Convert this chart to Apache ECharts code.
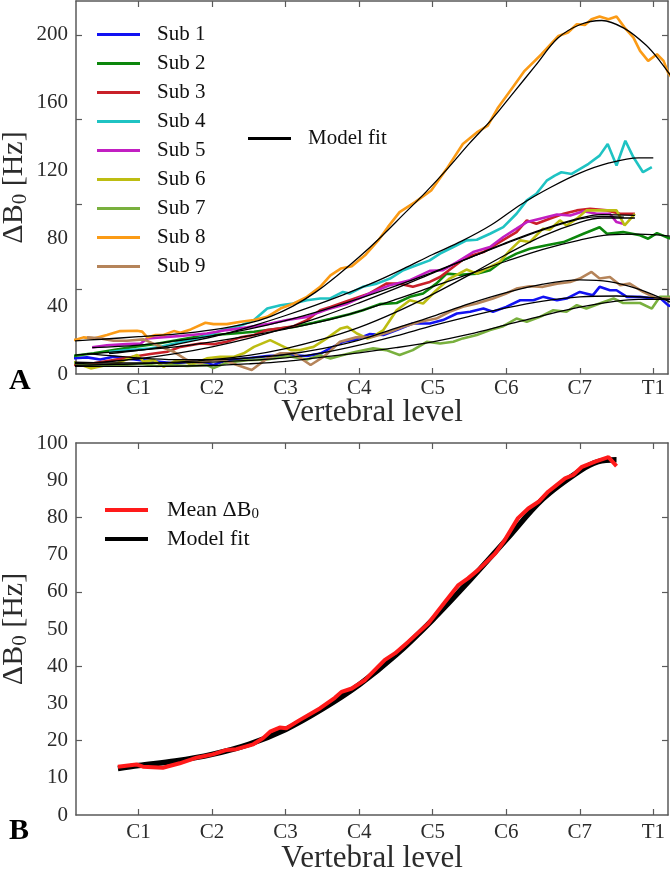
<!DOCTYPE html>
<html>
<head>
<meta charset="utf-8">
<script src="https://cdn.jsdelivr.net/npm/echarts@6/dist/echarts.min.js"></script>
<style>
  html, body { margin: 0; padding: 0; background: #fff; }
  #chart { width: 670px; height: 873px; }
</style>
</head>
<body>
<div id="chart"></div>
<script>
// Vertebral levels (x positions 1..8)
const levelValues = [1, 2, 3, 4, 5, 6, 7, 8];
const levelLabels = ["C1", "C2", "C3", "C4", "C5", "C6", "C7", "T1"];
const yLabelsA = [0, 40, 80, 120, 160, 200];
const yTicksA = [50, 100, 150, 200];
const yLabelsB = [0, 10, 20, 30, 40, 50, 60, 70, 80, 90, 100];
const yTicksB = [20, 40, 60, 80];

const subNames = ["Sub 1", "Sub 2", "Sub 3", "Sub 4", "Sub 5", "Sub 6", "Sub 7", "Sub 8", "Sub 9"];
const subColors = ["#1212f2", "#0c870c", "#c92029", "#1fc3c3", "#c21fc2", "#bdbd12", "#79b03e", "#fb9b16", "#b5845a"];

// measured field offset per subject, [vertebral level, Hz]
const sub1 = [[0.1,9.2],[0.3,9.8],[0.48,8.6],[0.66,10.2],[0.84,9.2],[1.03,8.2],[1.25,7.3],[1.48,6.3],[1.71,7.3],[1.93,6.3],[2.02,5.3],[2.2,8.2],[2.48,9.2],[2.75,10.6],[3.02,11.2],[3.29,10.6],[3.47,12],[3.6,15],[3.78,19],[3.96,20.4],[4.14,23.5],[4.33,23],[4.51,25.9],[4.73,29.8],[4.96,29.8],[5.14,31.8],[5.33,35.7],[5.51,36.7],[5.69,38.6],[5.82,36.7],[6.0,39.6],[6.19,43.5],[6.37,43.5],[6.5,45.5],[6.69,43.5],[6.82,44.5],[7.0,48.4],[7.18,46.5],[7.27,51.4],[7.41,49.4],[7.5,49.4],[7.64,45.5],[7.82,45.5],[8.0,44.5],[8.09,45],[8.2,40.6],[8.3,39]];
const sub2 = [[0.1,10.6],[0.39,12.2],[0.66,14.1],[0.93,16],[1.21,17.6],[1.48,19.6],[1.75,21.6],[2.02,23],[2.3,23.9],[2.57,24.9],[2.84,26.3],[3.11,27.8],[3.38,30.2],[3.6,32.4],[3.87,35.2],[4.05,37.6],[4.28,41.2],[4.51,41.9],[4.69,45.5],[4.87,47.5],[5.05,53.3],[5.19,59.2],[5.37,58.5],[5.6,59.2],[5.78,61.2],[5.96,67],[6.14,71],[6.32,73.9],[6.55,75.9],[6.78,77.8],[7.05,82.7],[7.27,86.6],[7.37,82.7],[7.59,83.7],[7.82,81.8],[7.93,79.8],[8.05,83.1],[8.2,80.4],[8.3,79]];
const sub3 = [[0.1,5.3],[0.39,6.3],[0.66,8.2],[0.93,10.2],[1.16,11.8],[1.39,13.1],[1.57,16],[1.84,18],[2.02,17.6],[2.2,19],[2.39,21.6],[2.57,23],[2.75,25.9],[2.93,26.9],[3.11,28.2],[3.29,31.8],[3.47,37.6],[3.61,39.5],[3.87,43.5],[4.14,47.5],[4.37,53.3],[4.55,53.3],[4.73,51.4],[4.96,54.3],[5.1,57.2],[5.28,63.1],[5.46,69],[5.69,71.9],[5.91,77.8],[6.14,83.7],[6.28,90.6],[6.41,88.6],[6.59,91.6],[6.78,94.5],[6.96,96.5],[7.14,97.5],[7.37,96.5],[7.55,94.5],[7.75,94.5]];
const sub4 = [[0.6,13],[0.8,14],[1.0,14.5],[1.15,15],[1.3,16],[1.45,17.5],[1.6,19],[1.8,21],[1.95,23],[2.15,25.9],[2.4,28.8],[2.57,31.8],[2.75,38.6],[2.93,40.6],[3.1,41.6],[3.29,43.5],[3.47,44.5],[3.6,44.5],[3.78,48.4],[3.87,47.5],[4.05,51.4],[4.24,53.3],[4.42,56.3],[4.6,61.2],[4.78,64.1],[4.96,67],[5.1,71],[5.28,74.9],[5.46,78.8],[5.6,79.2],[5.78,82.7],[5.96,86.6],[6.14,94.5],[6.28,102.4],[6.41,106.3],[6.55,114],[6.66,117],[6.75,119],[6.89,118],[7.12,124],[7.27,128.8],[7.38,135.7],[7.5,123],[7.62,137.6],[7.73,127.8],[7.86,119],[7.98,122]];
const sub5 = [[0.37,15.7],[0.57,17],[0.84,17.6],[1.03,18],[1.12,21],[1.3,21.6],[1.57,22.4],[1.93,23.9],[2.2,25.9],[2.48,27.5],[2.75,29.4],[3.02,31.8],[3.29,33.7],[3.56,38],[3.84,41.5],[4.14,47.5],[4.42,52.4],[4.69,55.3],[4.96,60.8],[5.14,61.2],[5.33,66],[5.55,71.9],[5.78,74.9],[5.96,80.8],[6.14,85.7],[6.28,89.6],[6.46,91.6],[6.69,94.1],[6.87,93.5],[7.05,96],[7.23,94.5],[7.41,94.5],[7.5,89.6],[7.59,88.6]];
const sub6 = [[0.1,7.3],[0.35,3.3],[0.57,5.3],[0.71,6.3],[0.98,11.2],[1.07,7.3],[1.21,8.2],[1.34,4.3],[1.48,7.3],[1.62,8.2],[1.71,5.3],[1.93,9.2],[2.11,10.2],[2.3,10.2],[2.43,12.2],[2.57,16],[2.79,20],[2.93,17],[3.07,14.1],[3.2,14.1],[3.38,16],[3.56,21],[3.75,26.9],[3.84,27.8],[3.97,23.9],[4.11,21],[4.19,22],[4.33,25.9],[4.51,37.6],[4.69,43.5],[4.87,41.6],[5.05,49.4],[5.23,56.3],[5.46,61.6],[5.6,59.2],[5.78,63.1],[5.91,66],[6.05,72.9],[6.19,78.8],[6.32,77.8],[6.5,85.7],[6.59,85.1],[6.73,90.6],[6.82,87.6],[6.96,91.6],[7.09,96.5],[7.27,96.5],[7.5,96.5],[7.61,87.6],[7.75,94.5]];
const sub7 = [[0.1,6.6],[0.35,5.3],[0.57,5.3],[0.8,5.3],[1.03,6],[1.25,4.7],[1.48,5.3],[1.66,4.7],[1.93,5.3],[2.02,3.5],[2.2,6.7],[2.48,8.2],[2.75,8.6],[3.02,10.6],[3.29,8.6],[3.47,11],[3.61,9.2],[3.78,11.2],[3.96,13.1],[4.19,15.1],[4.37,14.1],[4.55,11.2],[4.73,14.1],[4.92,19],[5.1,18],[5.28,19],[5.41,21],[5.6,23],[5.78,25.9],[5.96,28.2],[6.14,32.7],[6.28,30.8],[6.46,33.7],[6.64,37.6],[6.82,36.7],[6.96,40.6],[7.09,38.6],[7.27,41.6],[7.46,44.5],[7.59,41.9],[7.82,41.9],[7.98,38.6],[8.09,45.5],[8.2,45.5],[8.3,45.5]];
const sub8 = [[0.1,20],[0.16,20.4],[0.25,21.6],[0.39,21],[0.57,23],[0.75,25.3],[0.98,25.5],[1.05,25],[1.12,21.6],[1.23,23],[1.34,23],[1.48,25.3],[1.57,24.3],[1.71,26.3],[1.91,30.2],[2.02,29.4],[2.2,29.4],[2.39,30.8],[2.57,31.8],[2.75,33.7],[2.93,38.6],[3.11,41.6],[3.29,45.5],[3.47,51.4],[3.61,58.2],[3.75,62.2],[3.9,63.5],[4.08,70],[4.26,78.8],[4.39,86.6],[4.55,95.5],[4.76,101.4],[4.98,108.2],[5.19,121],[5.41,135.7],[5.6,142.5],[5.75,146.5],[5.89,157.2],[6.07,168],[6.25,178.8],[6.48,188.6],[6.71,199.4],[6.84,201.4],[6.96,206.3],[7.07,205.9],[7.16,209.2],[7.27,210.8],[7.39,209.2],[7.5,210.8],[7.61,204.3],[7.73,198.4],[7.82,190.6],[7.93,184.7],[8.05,188.6],[8.14,184.7],[8.2,177.8],[8.3,172]];
const sub9 = [[0.3,21.6],[0.48,21],[0.66,19.6],[0.84,19.6],[1.07,20.4],[1.25,17],[1.48,13.1],[1.66,8.2],[1.84,6.3],[2.02,8.2],[2.16,8.2],[2.34,5.3],[2.54,2.4],[2.75,9.2],[2.93,12.2],[3.11,12.2],[3.34,5.3],[3.52,10.2],[3.74,19],[3.96,21.6],[4.19,22],[4.42,24.9],[4.6,27.8],[4.83,30.8],[5.05,32.7],[5.23,36.7],[5.41,39.6],[5.6,41.6],[5.82,44.5],[6.0,47.5],[6.14,50.4],[6.32,51.8],[6.5,51.4],[6.69,53.3],[6.87,54.3],[7.0,56.3],[7.16,60.2],[7.27,56.3],[7.41,57.2],[7.55,52.4],[7.68,53.3],[7.86,48.4],[8.05,44.5],[8.2,44.5],[8.3,44.5]];

// model fit per subject
const fit1 = [[0.1,7],[0.6,6.5],[1.2,6.5],[2,7],[2.5,8],[3,9.5],[3.5,12.5],[4,17],[4.5,22.5],[5,28.5],[5.5,34],[6,39],[6.5,43],[7,45.5],[7.5,46],[8,45],[8.3,43.5]];
const fit2 = [[0.1,11],[0.5,12.5],[1,14],[1.5,16],[2,19],[2.5,22.5],[3,26.5],[3.5,31],[4,37],[4.5,44],[5,51.5],[5.5,59],[6,66.5],[6.5,73.5],[7,79],[7.4,82],[7.8,82.5],[8.3,81]];
const fit3 = [[0.1,6],[0.5,7],[1,9],[1.5,12],[2,16],[2.5,21],[3,27],[3.5,34],[4,42],[4.5,50.5],[5,59.5],[5.5,68.5],[6,77.5],[6.5,85.5],[7,92],[7.3,94],[7.75,93.5]];
const fit4 = [[0.6,12],[1,14],[1.4,16.5],[1.8,20],[2.2,24],[2.6,29],[3,34.5],[3.4,40.5],[3.8,47],[4.2,54],[4.6,62],[5,70.5],[5.4,78.5],[5.8,88],[6.2,100],[6.6,110],[7,118.5],[7.4,124.5],[7.8,127.5],[8.0,127.5]];
const fit5 = [[0.37,15.5],[1,17],[1.5,19.5],[2,22.5],[2.5,26.5],[3,31.5],[3.5,37.5],[4,44.5],[4.5,52],[5,60],[5.5,68.5],[6,77],[6.5,85],[7,91.5],[7.3,93],[7.6,92.5]];
const fit6 = [[0.1,5],[0.5,5.5],[1,6],[1.5,7],[2,8.5],[2.5,11],[3,15],[3.5,20.5],[4,27.5],[4.5,36.5],[5,47],[5.5,58.5],[6,70.5],[6.5,81.5],[7,89.5],[7.3,92],[7.75,92]];
const fit7 = [[0.1,4.5],[1,4.5],[2,5],[2.5,6],[3,7.5],[3.5,10],[4,12.5],[4.5,15.5],[5,19],[5.5,23.5],[6,29],[6.5,34.5],[7,39.5],[7.5,43],[7.8,44],[8.3,44]];
const fit8 = [[0.1,19.5],[0.5,20.5],[1,22],[1.5,23.5],[2,26],[2.5,30],[2.8,34],[3.1,40],[3.4,48],[3.7,58],[4.0,69],[4.3,81],[4.6,94],[4.9,107],[5.2,121],[5.5,136],[5.8,150],[6.1,166],[6.4,182],[6.7,198],[7.0,206],[7.3,208.5],[7.6,204],[7.9,194],[8.1,184],[8.3,172]];
const fit9 = [[0.3,12],[1,9.5],[1.5,8.5],[2,8.5],[2.5,9.5],[3,11.5],[3.5,15],[4,20],[4.5,27],[5,34],[5.5,41.5],[6,48],[6.5,53],[7,55.5],[7.4,54.5],[7.8,50],[8.3,41]];

// panel B: mean over subjects and its fit
const meanB0 = [[0.72,13],[0.97,13.6],[1.06,13],[1.33,12.7],[1.56,13.9],[1.79,15.4],[2.01,16.3],[2.2,17.5],[2.33,17.7],[2.56,19],[2.69,20.6],[2.79,22.4],[2.92,23.5],[3.01,23.3],[3.19,25.5],[3.47,28.7],[3.67,31.5],[3.76,33.1],[3.9,34],[4.08,36.3],[4.35,41.7],[4.49,43.5],[4.67,46.6],[4.94,51.5],[5.17,57.3],[5.35,61.8],[5.48,63.6],[5.62,65.9],[5.85,70.3],[5.98,73.9],[6.16,79.8],[6.3,82.4],[6.44,84.2],[6.57,86.9],[6.8,90.5],[6.91,91.4],[7.03,93.6],[7.21,95],[7.39,96.2],[7.5,93.8]];
const meanFit = [[0.72,12.5],[1,13.3],[1.5,14.5],[2,16.3],[2.5,19],[3,23],[3.5,28.5],[4,35],[4.5,43],[5,52.5],[5.5,63],[6,74],[6.5,85],[7,92.5],[7.25,95],[7.5,95.5]];

const subData = [sub1, sub2, sub3, sub4, sub5, sub6, sub7, sub8, sub9];
const fitData = [fit1, fit2, fit3, fit4, fit5, fit6, fit7, fit8, fit9];

const serif = "Liberation Serif";
const textColor = "#2b2b2b";
const frameColor = "#5a5a5a";

const chart = echarts.init(document.getElementById("chart"));

function xAxisFor(gridIndex, top, labelMargin, nameGap) {
  return {
    type: "value",
    gridIndex: gridIndex,
    position: top ? "top" : "bottom",
    min: 0.15,
    max: 8.2,
    name: top ? "" : "Vertebral level",
    nameLocation: "middle",
    nameGap: nameGap,
    nameMoveOverlap: false,
    nameTextStyle: { fontFamily: serif, fontSize: 31, color: textColor, verticalAlign: "top" },
    axisLine: { show: true, onZero: false, lineStyle: { color: frameColor, width: 1.5 } },
    axisTick: { show: true, inside: true, length: 6, customValues: levelValues, lineStyle: { color: frameColor, width: 1.2 } },
    axisLabel: {
      show: !top,
      customValues: levelValues,
      margin: labelMargin,
      fontFamily: serif,
      fontSize: 21,
      color: textColor,
      formatter: (v) => levelLabels[Math.round(v) - 1]
    },
    splitLine: { show: false }
  };
}

function yAxisFor(gridIndex, right, max, labels, ticks) {
  return {
    type: "value",
    gridIndex: gridIndex,
    position: right ? "right" : "left",
    min: 0,
    max: max,
    name: right ? "" : "{a|\u0394B}{s|0}{a| [Hz]}",
    nameLocation: "middle",
    nameGap: 45,
    nameRotate: 90,
    nameMoveOverlap: false,
    nameTextStyle: {
      color: textColor,
      rich: {
        a: { fontFamily: serif, fontSize: 30, color: textColor },
        s: { fontFamily: serif, fontSize: 21, color: textColor, padding: [12, 0, 0, 0] }
      }
    },
    axisLine: { show: true, onZero: false, lineStyle: { color: frameColor, width: 1.5 } },
    axisTick: { show: true, inside: true, length: 6, customValues: ticks, lineStyle: { color: frameColor, width: 1.2 } },
    axisLabel: {
      show: !right,
      customValues: labels,
      margin: 8,
      fontFamily: serif,
      fontSize: 21,
      color: textColor
    },
    splitLine: { show: false }
  };
}

const series = [];
subData.forEach((d, i) => {
  series.push({
    name: subNames[i],
    type: "line",
    xAxisIndex: 0,
    yAxisIndex: 0,
    data: d,
    symbol: "none",
    color: subColors[i],
    lineStyle: { width: 2.6, color: subColors[i] },
    z: 2
  });
});
fitData.forEach((d) => {
  series.push({
    name: "Model fit",
    type: "line",
    xAxisIndex: 0,
    yAxisIndex: 0,
    data: d,
    symbol: "none",
    smooth: 0.35,
    color: "#000",
    lineStyle: { width: 1.3, color: "#000" },
    z: 3
  });
});
series.push({
  name: "Model fit B",
  type: "line",
  xAxisIndex: 2,
  yAxisIndex: 2,
  data: meanFit,
  symbol: "none",
  smooth: 0.35,
  color: "#000",
  lineStyle: { width: 5.5, color: "#000" },
  z: 2
});
series.push({
  name: "Mean \u0394B0",
  type: "line",
  xAxisIndex: 2,
  yAxisIndex: 2,
  data: meanB0,
  symbol: "none",
  color: "#ff1a1a",
  lineStyle: { width: 4, color: "#ff1a1a" },
  z: 3
});

const legendText = { fontFamily: serif, fontSize: 21, color: "#111", padding: [0, 0, 0, 12] };

const option = {
  animation: false,
  backgroundColor: "#fff",
  grid: [
    { left: 76, top: 1, width: 592, height: 373, outerBoundsMode: "none", containLabel: false },
    { left: 76, top: 443, width: 592, height: 372, outerBoundsMode: "none", containLabel: false }
  ],
  xAxis: [xAxisFor(0, false, 4, 23), xAxisFor(0, true, 4, 0), xAxisFor(1, false, 7, 28), xAxisFor(1, true, 7, 0)],
  yAxis: [
    yAxisFor(0, false, 220, yLabelsA, yTicksA),
    yAxisFor(0, true, 220, yLabelsA, yTicksA),
    yAxisFor(1, false, 100, yLabelsB, yTicksB),
    yAxisFor(1, true, 100, yLabelsB, yTicksB)
  ],
  legend: [
    {
      data: subNames,
      orient: "vertical",
      left: 97,
      top: 24,
      padding: 0,
      icon: "rect",
      itemWidth: 43,
      itemHeight: 3,
      itemGap: 8,
      textStyle: legendText,
      selectedMode: false
    },
    {
      data: ["Model fit"],
      orient: "vertical",
      left: 248,
      top: 128,
      padding: 0,
      icon: "rect",
      itemWidth: 43,
      itemHeight: 3,
      textStyle: legendText,
      selectedMode: false
    },
    {
      data: ["Mean \u0394B0", "Model fit B"],
      orient: "vertical",
      left: 105,
      top: 499,
      padding: 0,
      icon: "rect",
      itemWidth: 43,
      itemHeight: 4,
      itemGap: 6,
      selectedMode: false,
      formatter: (name) => name === "Model fit B" ? "{t|Model fit}" : "{t|Mean \u0394B}{s|0}",
      textStyle: {
        padding: [0, 0, 0, 14],
        rich: {
          t: { fontFamily: serif, fontSize: 22, color: "#111" },
          s: { fontFamily: serif, fontSize: 15, color: "#111", padding: [9, 0, 0, 0] }
        }
      }
    }
  ],
  graphic: [
    { type: "text", left: 9, top: 366, style: { text: "A", fontFamily: serif, fontSize: 30, fontWeight: "bold", fill: "#000" } },
    { type: "text", left: 9, top: 816, style: { text: "B", fontFamily: serif, fontSize: 30, fontWeight: "bold", fill: "#000" } }
  ],
  series: series
};

chart.setOption(option);
</script>
</body>
</html>
